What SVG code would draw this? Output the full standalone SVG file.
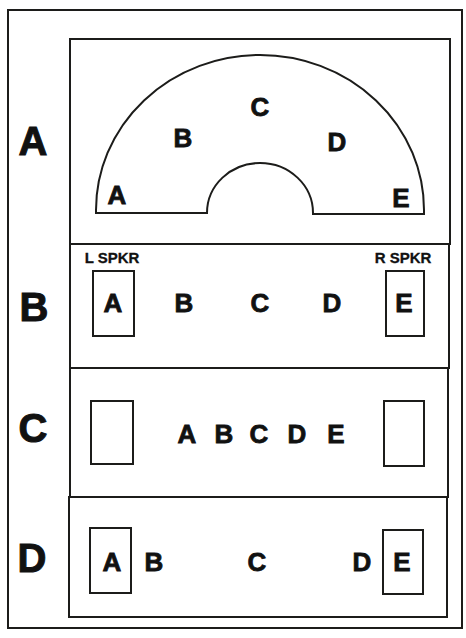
<svg xmlns="http://www.w3.org/2000/svg" width="466" height="638" viewBox="0 0 466 638">
<style>
.ln{fill:none;stroke:#1c1c1a;stroke-width:2}
.big{font-family:"Liberation Sans",Arial,sans-serif;font-weight:bold;font-size:40px;fill:#111;stroke:#111;stroke-width:1;text-anchor:middle}
.let{font-family:"Liberation Sans",Arial,sans-serif;font-weight:bold;font-size:26px;fill:#111;stroke:#111;stroke-width:0.8;text-anchor:middle}
.sm{font-family:"Liberation Sans",Arial,sans-serif;font-weight:bold;font-size:15px;fill:#111;stroke:#111;stroke-width:0.3;text-anchor:middle}
</style>
<rect width="466" height="638" fill="#fff"/>
<g id="frame">
<rect class="ln" x="8" y="10" width="454" height="618"/>
</g>
<g id="panelA">
<rect class="ln" x="70" y="39" width="380" height="205"/>
<path class="ln" d="M96,213 L96,210 A164,155 0 0 1 424,210 L424,214 L313,214 L313,213 A53,50 0 0 0 207,213 Z"/>
<text class="big" x="33" y="155">A</text>
<text class="let" x="117" y="204">A</text>
<text class="let" x="183" y="147">B</text>
<text class="let" x="260" y="116">C</text>
<text class="let" x="337" y="151">D</text>
<text class="let" x="401" y="207">E</text>
</g>
<g id="panelB">
<rect class="ln" x="70" y="244" width="379" height="124"/>
<text class="big" x="34" y="321">B</text>
<text class="sm" x="112" y="263">L SPKR</text>
<text class="sm" x="403" y="263">R SPKR</text>
<rect class="ln" x="93" y="271" width="41" height="65"/>
<rect class="ln" x="386" y="271" width="38" height="65"/>
<text class="let" x="113" y="312">A</text>
<text class="let" x="184" y="312">B</text>
<text class="let" x="260" y="312">C</text>
<text class="let" x="332" y="312">D</text>
<text class="let" x="404" y="312">E</text>
</g>
<g id="panelC">
<rect class="ln" x="70" y="368" width="378" height="129"/>
<text class="big" x="33" y="442">C</text>
<rect class="ln" x="91" y="401" width="42" height="63"/>
<rect class="ln" x="384" y="401" width="40" height="65"/>
<text class="let" x="187" y="443">A</text>
<text class="let" x="224" y="443">B</text>
<text class="let" x="259" y="443">C</text>
<text class="let" x="297" y="443">D</text>
<text class="let" x="336" y="443">E</text>
</g>
<g id="panelD">
<rect class="ln" x="69" y="497" width="378" height="120"/>
<text class="big" x="32" y="572">D</text>
<rect class="ln" x="90" y="528" width="41" height="65"/>
<rect class="ln" x="383" y="530" width="40" height="64"/>
<text class="let" x="112" y="571">A</text>
<text class="let" x="154" y="571">B</text>
<text class="let" x="257" y="571">C</text>
<text class="let" x="362" y="571">D</text>
<text class="let" x="402" y="571">E</text>
</g>
</svg>
